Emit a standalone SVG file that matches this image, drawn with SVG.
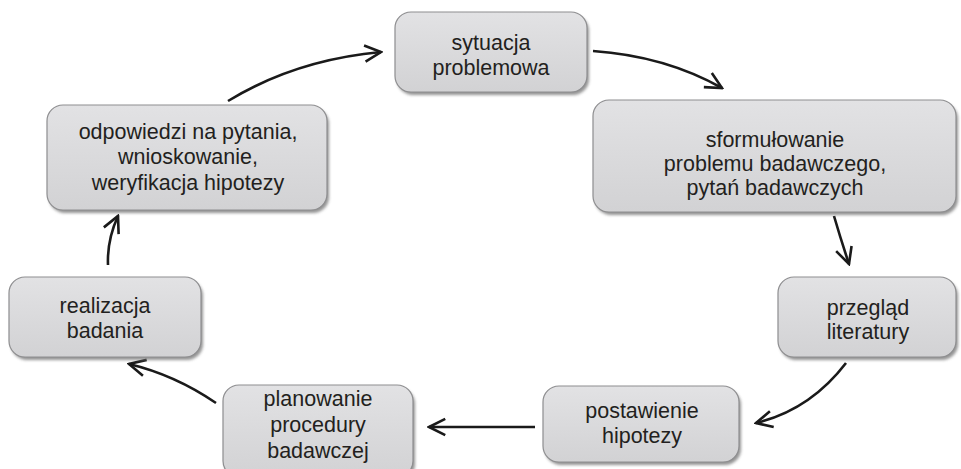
<svg xmlns="http://www.w3.org/2000/svg" width="961" height="469" viewBox="0 0 961 469">
<style>
.box{fill:url(#g);stroke:#8e8e90;stroke-width:1.2}
.sh{fill:#6f6f70;opacity:0.75}
text{font-family:"Liberation Sans",Arial,sans-serif;font-size:21.5px;fill:#231f20;text-anchor:middle}
.c{fill:none;stroke:#1a1a1a;stroke-width:2.6;marker-end:url(#ah)}
</style>
<defs>
<linearGradient id="g" x1="0" y1="0" x2="0" y2="1">
<stop offset="0" stop-color="#e2e2e4"/>
<stop offset="1" stop-color="#d2d2d4"/>
</linearGradient>
<filter id="bl" x="-10%" y="-10%" width="120%" height="130%"><feGaussianBlur stdDeviation="1.5"/></filter>
<marker id="ah" viewBox="0 0 12 12" refX="11" refY="6" markerWidth="7.5" markerHeight="7.5" orient="auto" markerUnits="strokeWidth">
<path d="M1,1 L11,6 L1,11" fill="none" stroke="#1a1a1a" stroke-width="1.6"/>
</marker>
</defs>
<g id="connectors">
<path class="c" d="M593,51 Q665,56 722,88"/>
<path class="c" d="M834,216 Q841,240 849,264"/>
<path class="c" d="M846,363 Q810,410 756,423"/>
<path class="c" d="M535,427 L429,427"/>
<path class="c" d="M216,403 Q175,375 129,364"/>
<path class="c" d="M108,265 Q107,240 118,216"/>
<path class="c" d="M228,101 Q295,60 381,52"/>
</g>
<g id="n1">
<rect class="sh" x="397" y="15" width="192" height="80" rx="16" filter="url(#bl)"/>
<rect class="box" x="395" y="12" width="192" height="80" rx="16"/>
<text x="491" y="50">sytuacja</text>
<text x="491" y="75">problemowa</text>
</g>
<g id="n2">
<rect class="sh" x="595" y="103" width="363" height="112" rx="16" filter="url(#bl)"/>
<rect class="box" x="593" y="100" width="363" height="112" rx="16"/>
<text x="775" y="147">sformułowanie</text>
<text x="775" y="171">problemu badawczego,</text>
<text x="775" y="195">pytań badawczych</text>
</g>
<g id="n3">
<rect class="sh" x="780" y="280" width="178" height="80" rx="16" filter="url(#bl)"/>
<rect class="box" x="778" y="277" width="178" height="80" rx="16"/>
<text x="868" y="315">przegląd</text>
<text x="868" y="339">literatury</text>
</g>
<g id="n4">
<rect class="sh" x="545" y="389" width="196" height="76" rx="16" filter="url(#bl)"/>
<rect class="box" x="543" y="386" width="196" height="76" rx="16"/>
<text x="642" y="418">postawienie</text>
<text x="642" y="443">hipotezy</text>
</g>
<g id="n5">
<rect class="sh" x="225" y="388" width="190" height="92" rx="16" filter="url(#bl)"/>
<rect class="box" x="223" y="385" width="190" height="92" rx="16"/>
<text x="318" y="406">planowanie</text>
<text x="318" y="432">procedury</text>
<text x="318" y="458">badawczej</text>
</g>
<g id="n6">
<rect class="sh" x="11" y="280" width="192" height="80" rx="16" filter="url(#bl)"/>
<rect class="box" x="9" y="277" width="192" height="80" rx="16"/>
<text x="105" y="313">realizacja</text>
<text x="105" y="338">badania</text>
</g>
<g id="n7">
<rect class="sh" x="49" y="108" width="280" height="105" rx="16" filter="url(#bl)"/>
<rect class="box" x="47" y="105" width="280" height="105" rx="16"/>
<text x="188" y="139">odpowiedzi na pytania,</text>
<text x="188" y="164">wnioskowanie,</text>
<text x="188" y="190">weryfikacja hipotezy</text>
</g>
</svg>
